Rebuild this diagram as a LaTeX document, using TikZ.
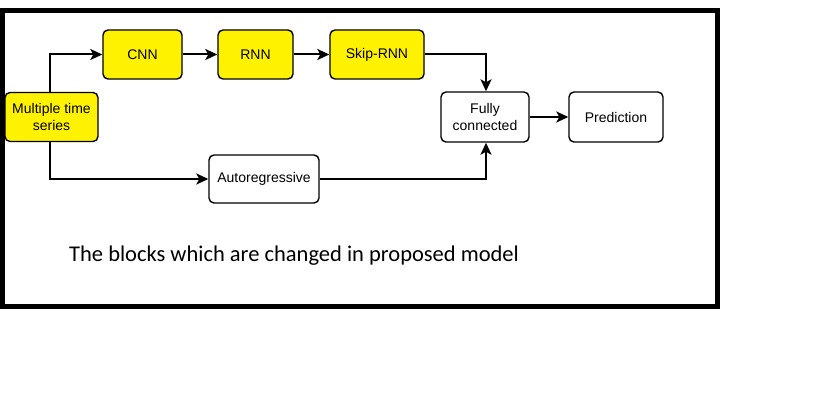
\documentclass[tikz,border=0pt]{standalone}
\usepackage{fontspec}
\setmainfont{Liberation Sans}
\newfontfamily\calibrifont{Carlito}
\usetikzlibrary{arrows.meta}
\definecolor{blkyellow}{RGB}{255,242,0}
\tikzset{
  blk/.style={draw=black, line width=1.4pt, rounded corners=5pt, minimum height=49pt,
    align=center, inner sep=0pt, font=\fontsize{14}{17}\selectfont, text=black},
  yblk/.style={blk, fill=blkyellow},
  wblk/.style={blk, fill=white},
  conn/.style={line width=2pt, -{Stealth[length=12pt,width=11pt,inset=3pt]}},
  frame/.style={draw=black, line width=5pt}
}
\begin{document}
\begin{tikzpicture}[x=1pt,y=-1pt]
\useasboundingbox (0,0) rectangle (827,417);
\draw[frame] (2.5,10.5) rectangle (717.5,306.5);
\fill[black] (0,13) rectangle (5,25);
\node[yblk, minimum width=93pt] (multi) at (51.5,117) {Multiple time\\series};
\node[yblk, minimum width=79pt] (cnn) at (142.5,54.5) {CNN};
\node[yblk, minimum width=75pt] (rnn) at (255.5,54.5) {RNN};
\node[yblk, minimum width=94pt] (skip) at (377,54.5) {Skip-RNN};
\node[wblk, minimum width=110pt, minimum height=48pt] (ar) at (264,179) {Autoregressive};
\node[wblk, minimum width=88pt, minimum height=50pt] (fc) at (485,117) {Fully\\connected};
\node[wblk, minimum width=94pt, minimum height=50pt] (pred) at (616,117) {Prediction};
\draw[conn] ([xshift=-1.5pt]multi.north) |- (cnn.west);
\draw[conn] ([xshift=-1.5pt]multi.south) |- (ar.west);
\draw[conn] (cnn) -- (rnn);
\draw[conn] (rnn) -- (skip);
\draw[conn] (skip.east) -| ([xshift=1pt]fc.north);
\draw[conn] (ar.east) -| ([xshift=1pt]fc.south);
\draw[conn] (fc) -- (pred);
\node[font=\calibrifont\fontsize{22.5}{26}\selectfont, anchor=base west, inner sep=0pt] (caption) at (69,261) {The blocks which are changed in proposed model};
\end{tikzpicture}
\end{document}
